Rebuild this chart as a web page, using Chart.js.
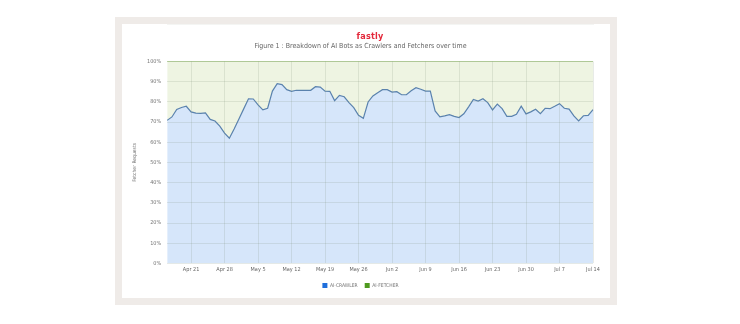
<!DOCTYPE html>
<html>
<head>
<meta charset="utf-8">
<script src="https://cdn.jsdelivr.net/npm/chart.js@4.4.1/dist/chart.umd.min.js"></script>
<style>
html,body{margin:0;padding:0;background:#fff;}
#frame{position:absolute;left:115px;top:17px;width:502px;height:288px;box-sizing:border-box;border:7px solid #efebe8;background:#fff;}
#logo{position:absolute;left:0;width:100%;top:31px;text-align:center;font:bold 9px 'Liberation Sans Narrow','DejaVu Sans Condensed',sans-serif;color:#e3283a;letter-spacing:0.2px;z-index:2;}
#wrap{position:absolute;left:122px;top:24px;width:488px;height:274px;}
</style>
</head>
<body>
<div id="frame"></div>
<div id="logo">fastly</div>
<div id="wrap"><canvas id="botChart"></canvas></div>
<script>
const fontFam = "'Liberation Sans Narrow','DejaVu Sans Condensed',sans-serif"

// weekly tick labels shown on the x axis
const weekLabels = ["Apr 21","Apr 28","May 5","May 12","May 19","May 26","Jun 2","Jun 9","Jun 16","Jun 23","Jun 30","Jul 7","Jul 14"]

// share of AI bot requests (%) per day, Apr 16 -> Jul 14
const crawler = [
70.8,72.5,76.2,77.2,77.8,75.0,74.4,74.3,74.5,71.3,
70.5,68.0,64.5,62.0,66.5,71.5,76.5,81.5,81.4,78.5,
76.0,76.8,85.3,89.0,88.5,86.0,85.2,85.7,85.7,85.7,
85.7,87.5,87.3,85.3,85.2,80.6,83.2,82.5,79.6,77.1,
73.3,71.8,79.9,82.9,84.5,86.0,86.0,84.8,85.0,83.5,
83.5,85.5,87.0,86.2,85.3,85.3,75.5,72.5,73.0,73.6,
72.8,72.2,74.1,77.5,81.2,80.4,81.5,79.6,76.0,78.9,
76.6,72.8,72.8,73.8,77.8,74.0,75.0,76.3,74.1,76.8,
76.6,77.8,79.1,76.8,76.4,73.0,70.5,73.1,73.3,76.1]

const fetcher = [
29.2,27.5,23.8,22.8,22.2,25.0,25.6,25.7,25.5,28.7,
29.5,32.0,35.5,38.0,33.5,28.5,23.5,18.5,18.6,21.5,
24.0,23.2,14.7,11.0,11.5,14.0,14.8,14.3,14.3,14.3,
14.3,12.5,12.7,14.7,14.8,19.4,16.8,17.5,20.4,22.9,
26.7,28.2,20.1,17.1,15.5,14.0,14.0,15.2,15.0,16.5,
16.5,14.5,13.0,13.8,14.7,14.7,24.5,27.5,27.0,26.4,
27.2,27.8,25.9,22.5,18.8,19.6,18.5,20.4,24.0,21.1,
23.4,27.2,27.2,26.2,22.2,26.0,25.0,23.7,25.9,23.2,
23.4,22.2,20.9,23.2,23.6,27.0,29.5,26.9,26.7,23.9]

// daily category labels
const days = []
const d0 = new Date(2025,3,16)
for(let i=0;i<crawler.length;i++){
const d = new Date(d0.getTime() + i*86400000)
days.push(d.toLocaleString('en-US',{month:'short'}) + ' ' + d.getDate())
}

const gridCol = "rgba(120,135,115,0.17)"

new Chart(document.getElementById("botChart"),{
type:'line',
data:{
labels: days,
datasets:[{
label:"AI-CRAWLER",
data: crawler,
borderColor:"#5a82ad",
backgroundColor:"#d6e6fa",
borderWidth:1.2,
pointRadius:0,
fill:'origin',
tension:0
},{
label:"AI-FETCHER",
data: fetcher,
borderColor:"#78ae44",
backgroundColor:"#eef4e2",
borderWidth:1.4,
pointRadius:0,
fill:'-1',
tension:0
}]
},
options:{
responsive:true,
maintainAspectRatio:false,
animation:false,
layout:{padding:{left:6,right:17,top:0,bottom:0}},
plugins:{
title:{
display:true,
text:"Figure 1 : Breakdown of AI Bots as Crawlers and Fetchers over time",
color:"#666",
font:{family:fontFam,size:7,weight:'normal'},
padding:{top:18,bottom:11}
},
legend:{
position:'bottom',
labels:{
color:"#777",
font:{family:fontFam,size:5},
boxWidth:5,
boxHeight:5,
padding:7,
generateLabels:(chart)=>[
{text:"AI-CRAWLER",fillStyle:"#1f6fdc",strokeStyle:"#1f6fdc",lineWidth:0,datasetIndex:0,fontColor:"#777"},
{text:"AI-FETCHER",fillStyle:"#4f9a1f",strokeStyle:"#4f9a1f",lineWidth:0,datasetIndex:1,fontColor:"#777"}
]
}
},
tooltip:{enabled:false}
},
scales:{
x:{
ticks:{
autoSkip:false,
maxRotation:0,
color:"#666",
font:{family:fontFam,size:5.5},
padding:3,
callback:function(v,i){
const l = this.getLabelForValue(v)
return weekLabels.includes(l) ? l : null
}
},
grid:{color:gridCol,drawTicks:false,z:1},
border:{color:gridCol}
},
y:{
stacked:true,
min:0,
max:100,
ticks:{
stepSize:10,
color:"#777",
font:{family:fontFam,size:5.5},
padding:6,
callback:(v)=>v+'%'
},
title:{
display:true,
text:"Fetcher Requests",
color:"#777",
font:{family:fontFam,size:5},
padding:{bottom:3}
},
grid:{color:gridCol,drawTicks:false,z:1},
border:{display:false}
}
}
}
})
</script>
</body>
</html>
